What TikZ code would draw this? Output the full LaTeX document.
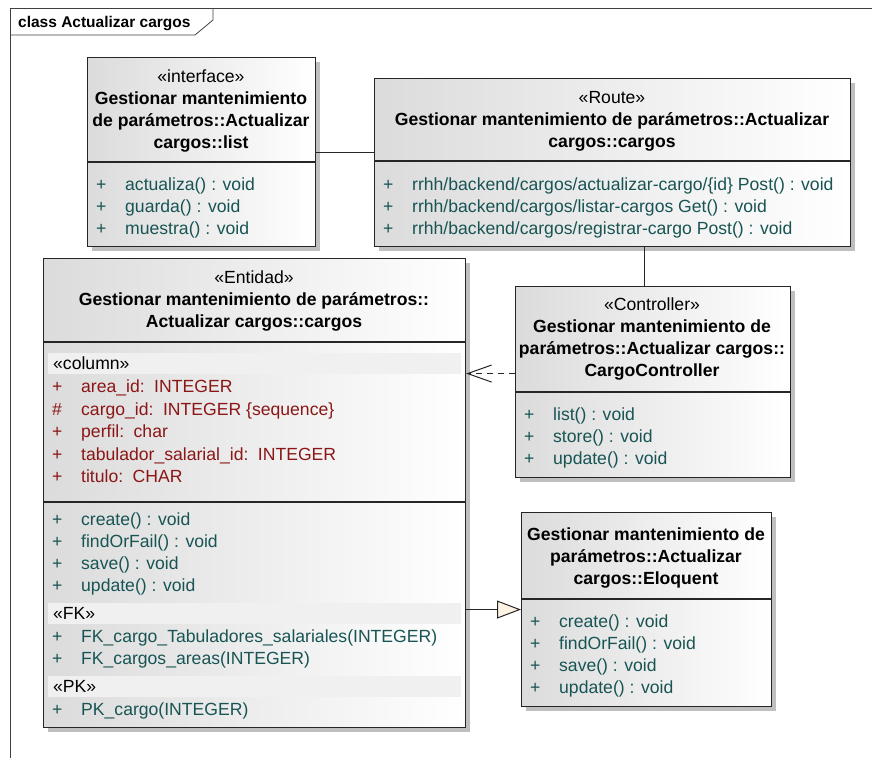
\documentclass[tikz,border=0pt]{standalone}
\usepackage{fontspec}
\setmainfont{Liberation Sans}
\usetikzlibrary{arrows.meta,shadows}
\definecolor{opcolor}{RGB}{24,84,84}
\definecolor{attcolor}{RGB}{140,22,22}
\definecolor{tipfill}{RGB}{252,243,228}
\newcommand{\umlfont}{\fontsize{17.6}{22}\selectfont}
\tikzset{
  frame/.style    ={draw=black!75,line width=0.8pt},
  classbox/.style ={rectangle,draw=black!85,line width=1.1pt,left color=black!14,right color=white,
                    anchor=north west,inner sep=0pt,
                    drop shadow={shadow xshift=4.5pt,shadow yshift=-4.5pt,fill=black!25,opacity=1}},
  divider/.style  ={draw=black!85,line width=1.1pt},
  header/.style   ={anchor=north,align=center,inner sep=0pt,font=\umlfont},
  ops/.style      ={anchor=north west,inner sep=0pt,font=\umlfont,text=opcolor},
  atts/.style     ={anchor=north west,inner sep=0pt,font=\fontsize{17.6}{22.5}\selectfont,text=attcolor},
  band/.style     ={anchor=north west,fill=black!6,minimum width=413pt,minimum height=21pt,
                    text width=403pt,inner xsep=5pt,inner ysep=0pt,align=left,font=\umlfont},
  link/.style     ={draw=black!85,line width=1pt},
  depend/.style   ={link,dash pattern=on 6pt off 5pt,-{Straight Barb[length=24pt,width=17pt]}},
  realize/.style  ={link,-{Triangle[length=24pt,width=18pt,fill=tipfill]}}
}

\begin{document}
\begin{tikzpicture}[x=1pt,y=-1pt]
  \useasboundingbox (0,0) rectangle (872,758);
  % Frame
  \draw[frame] (10,758) -- (10,8) -- (872,8);
  \draw[frame] (10,35) -- (195,35) -- (213,20) -- (213,8);
  \node[anchor=base west,inner sep=0pt,font=\fontsize{15.5}{18}\selectfont\bfseries] (title) at (18,27) {class Actualizar cargos};

  % Boxes
  \node[classbox,minimum width=228pt,minimum height=189pt] (list)  at (87,57)   {};
  \node[classbox,minimum width=476pt,minimum height=168pt] (route) at (374,78)  {};
  \node[classbox,minimum width=422pt,minimum height=469pt] (ent)   at (43,258)  {};
  \node[classbox,minimum width=275pt,minimum height=191pt] (ctrl)  at (515,286) {};
  \node[classbox,minimum width=250pt,minimum height=194pt] (eloq)  at (521,512) {};

  % Dividers
  \draw[divider] (87,162) -- (315,162);
  \draw[divider] (374,161) -- (850,161);
  \draw[divider] (43,342) -- (465,342);
  \draw[divider] (43,502) -- (465,502);
  \draw[divider] (515,392) -- (790,392);
  \draw[divider] (521,599) -- (771,599);

  % Interface
  \node[header] (listhead) at (201,67) {\strut«interface»\\\textbf{Gestionar mantenimiento}\\
    \textbf{de parámetros::Actualizar}\\\textbf{cargos::list}};
  \node[ops] (listops) at (96,175) {\begin{tabular}{@{}p{29pt}@{}l@{}}
    + & actualiza() : void\\+ & guarda() : void\\+ & muestra() : void\end{tabular}};

  % Route
  \node[header] (routehead) at (612,88) {\strut«Route»\\
    \textbf{Gestionar mantenimiento de parámetros::Actualizar}\\\textbf{cargos::cargos}};
  \node[ops] (routeops) at (383,175) {\begin{tabular}{@{}p{29pt}@{}l@{}}
    + & rrhh/backend/cargos/actualizar-cargo/\{id\} Post() : void\\
    + & rrhh/backend/cargos/listar-cargos Get() : void\\
    + & rrhh/backend/cargos/registrar-cargo Post() : void\end{tabular}};

  % Entidad
  \node[header] (enthead) at (254,268) {\strut«Entidad»\\
    \textbf{Gestionar mantenimiento de parámetros::}\\\textbf{Actualizar cargos::cargos}};
  \node[band] (colband) at (48,353) {«column»};
  \node[atts] (entatts) at (52,377) {\begin{tabular}{@{}p{29pt}@{}l@{}}
    + & area\_id:\, INTEGER\\
    \# & cargo\_id:\, INTEGER \{sequence\}\\
    + & perfil:\, char\\
    + & tabulador\_salarial\_id:\, INTEGER\\
    + & titulo:\, CHAR\end{tabular}};
  \node[ops] (entops) at (52,510) {\begin{tabular}{@{}p{29pt}@{}l@{}}
    + & create() : void\\+ & findOrFail() : void\\+ & save() : void\\+ & update() : void\end{tabular}};
  \node[band] (fkband) at (48,603) {«FK»};
  \node[ops] (entfk) at (52,627) {\begin{tabular}{@{}p{29pt}@{}l@{}}
    + & FK\_cargo\_Tabuladores\_salariales(INTEGER)\\+ & FK\_cargos\_areas(INTEGER)\end{tabular}};
  \node[band] (pkband) at (48,676) {«PK»};
  \node[ops] (entpk) at (52,700) {\begin{tabular}{@{}p{29pt}@{}l@{}}
    + & PK\_cargo(INTEGER)\end{tabular}};

  % Controller
  \node[header] (ctrlhead) at (652,295) {\strut«Controller»\\\textbf{Gestionar mantenimiento de}\\
    \textbf{parámetros::Actualizar cargos::}\\\textbf{CargoController}};
  \node[ops] (ctrlops) at (524,405) {\begin{tabular}{@{}p{29pt}@{}l@{}}
    + & list() : void\\+ & store() : void\\+ & update() : void\end{tabular}};

  % Eloquent
  \node[header] (eloqhead) at (646,525) {\strut\textbf{Gestionar mantenimiento de}\\
    \textbf{parámetros::Actualizar}\\\textbf{cargos::Eloquent}};
  \node[ops] (eloqops) at (530,612) {\begin{tabular}{@{}p{29pt}@{}l@{}}
    + & create() : void\\+ & findOrFail() : void\\+ & save() : void\\+ & update() : void\end{tabular}};

  % Arrows
  \draw[link] (list.east) -- (list.east -| route.west);
  \draw[link] ([xshift=-9pt]ctrl.north) -- ([xshift=-9pt]ctrl.north |- route.south);
  \draw[depend] ([yshift=8.5pt]ctrl.west) -- ([yshift=8.5pt]ctrl.west -| ent.east);
  \draw[realize] (eloq.west -| ent.east) -- (eloq.west);
\end{tikzpicture}
\end{document}
